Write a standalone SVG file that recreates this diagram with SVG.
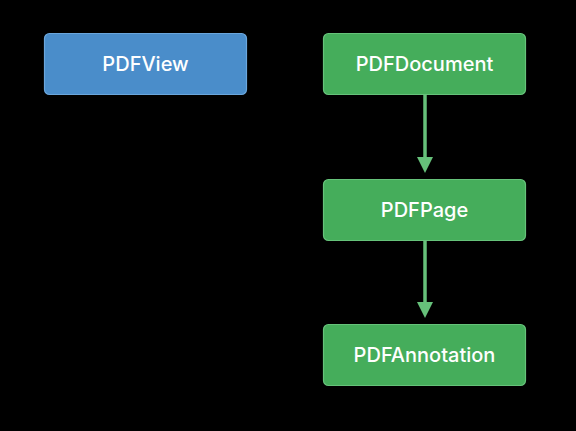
<svg xmlns="http://www.w3.org/2000/svg" width="576" height="431" viewBox="0 0 576 431">
<style>
.box{stroke-width:1.2}
.blue{fill:#4a8dca;stroke:#6aa6dc}
.green{fill:#45ad5b;stroke:#66c27a}
.lbl{font-family:Inter,"Liberation Sans",Arial,sans-serif;font-weight:500;font-size:20px;fill:#ffffff;text-anchor:middle;dominant-baseline:central}
.edge{stroke:#66c07a;stroke-width:3.5;fill:none}
.head{fill:#66c07a}
</style>
<rect width="576" height="431" fill="#000000"/>
<g id="pdfview"><rect class="box blue" x="44.5" y="33.5" width="202" height="61" rx="5"/><text class="lbl" x="145.5" y="64">PDFView</text></g>
<g id="pdfdocument"><rect class="box green" x="323.5" y="33.5" width="202" height="61" rx="5"/><text class="lbl" x="424.5" y="64">PDFDocument</text></g>
<g id="pdfpage"><rect class="box green" x="323.5" y="179.5" width="202" height="61" rx="5"/><text class="lbl" x="424.5" y="210">PDFPage</text></g>
<g id="pdfannotation"><rect class="box green" x="323.5" y="324.5" width="202" height="61" rx="5"/><text class="lbl" x="424.5" y="355">PDFAnnotation</text></g>
<g id="connectors">
<line class="edge" x1="425" y1="95" x2="425" y2="158"/>
<polygon class="head" points="417,157 433,157 425,173"/>
<line class="edge" x1="425" y1="241" x2="425" y2="303"/>
<polygon class="head" points="417,302 433,302 425,318"/>
</g>
</svg>
